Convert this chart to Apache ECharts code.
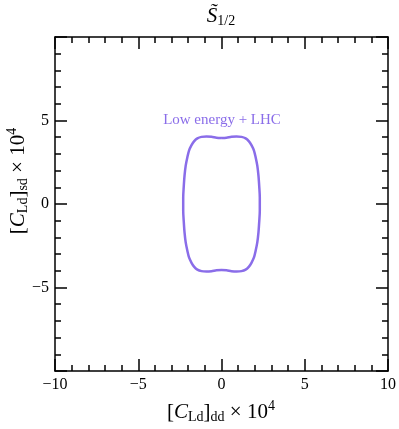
<!DOCTYPE html>
<html>
<head>
<meta charset="utf-8">
<script src="https://cdn.jsdelivr.net/npm/echarts@6/dist/echarts.min.js"></script>
<style>
  html, body { margin: 0; padding: 0; background: #fff; }
  #chart { width: 399px; height: 429px; }
</style>
</head>
<body>
<div id="chart"></div>
<script>
// contour "Low energy + LHC" (units of 1e-4)
const contourX = [0, 0.3, 0.6, 0.9, 1.2, 1.45, 1.65, 1.8, 1.95, 2.05, 2.15, 2.22, 2.27, 2.3,
  2.3, 2.27, 2.22, 2.15, 2.05, 1.95, 1.8, 1.65, 1.45, 1.2, 0.9, 0.6, 0.3, 0,
  -0.3, -0.6, -0.9, -1.2, -1.45, -1.65, -1.8, -1.95, -2.05, -2.15, -2.22, -2.27, -2.3,
  -2.3, -2.27, -2.22, -2.15, -2.05, -1.95, -1.8, -1.65, -1.45, -1.2, -0.9, -0.6, -0.3, 0];
const contourY = [3.95, 3.97, 4.02, 4.04, 4.02, 3.93, 3.75, 3.52, 3.2, 2.8, 2.3, 1.7, 1.0, 0.4,
  -0.4, -1.0, -1.7, -2.3, -2.8, -3.2, -3.52, -3.75, -3.93, -4.02, -4.04, -4.02, -3.97, -3.95,
  -3.97, -4.02, -4.04, -4.02, -3.93, -3.75, -3.52, -3.2, -2.8, -2.3, -1.7, -1.0, -0.4,
  0.4, 1.0, 1.7, 2.3, 2.8, 3.2, 3.52, 3.75, 3.93, 4.02, 4.04, 4.02, 3.97, 3.95];
const axisMin = -10;
const axisMax = 10;
const majorStep = 5;

const purple = '#8a6de9';
const serif = '"Liberation Serif", "DejaVu Serif", serif';

const chart = echarts.init(document.getElementById('chart'));

const fmt = v => String(v).replace('-', '\u2212');

function makeAxis(position, showLabel, isY) {
  return {
    type: 'value',
    position: position,
    min: axisMin,
    max: axisMax,
    interval: majorStep,
    axisLine: { show: true, onZero: false, lineStyle: { color: '#000', width: 1.5 } },
    axisTick: { show: true, inside: true, length: 12, lineStyle: { color: '#000', width: 1.5 } },
    minorTick: { show: true, splitNumber: 5, length: 6, lineStyle: { color: '#000', width: 1.5 } },
    splitLine: { show: false },
    minorSplitLine: { show: false },
    axisLabel: {
      show: showLabel,
      formatter: fmt,
      color: '#000',
      fontFamily: serif,
      fontSize: 16,
      margin: 6,
      showMinLabel: !isY,
      showMaxLabel: !isY
    }
  };
}

const nameRich = {
  b: { fontFamily: serif, fontSize: 21, color: '#000', lineHeight: 24 },
  i: { fontFamily: serif, fontSize: 21, fontStyle: 'italic', color: '#000', lineHeight: 24 },
  s: { fontFamily: serif, fontSize: 14, color: '#000', lineHeight: 14, padding: [10, 0, 0, 0] },
  sup: { fontFamily: serif, fontSize: 14, color: '#000', lineHeight: 14, padding: [0, 0, 12, 0] }
};

const option = {
  animation: false,
  backgroundColor: '#fff',
  grid: { left: 55, top: 37, width: 334, height: 334, containLabel: false },
  xAxis: [makeAxis('bottom', true, false), makeAxis('top', false, false)],
  yAxis: [makeAxis('left', true, true), makeAxis('right', false, true)],
  series: [{
    type: 'line',
    xAxisIndex: 0,
    yAxisIndex: 0,
    data: contourX.map((x, i) => [x, contourY[i]]),
    showSymbol: false,
    smooth: 0.3,
    lineStyle: { color: purple, width: 2.5 }
  }],
  graphic: [
    {
      type: 'text', x: 222, y: 120,
      style: { text: 'Low energy + LHC', fill: purple, font: '15px ' + serif, align: 'center', verticalAlign: 'middle' }
    },
    {
      type: 'text', x: 221, y: 16,
      style: {
        text: '{i|S\u0303}{s|1/2}',
        align: 'center', verticalAlign: 'middle',
        rich: nameRich
      }
    },
    {
      type: 'text', x: 221, y: 412,
      style: {
        text: '{b|[}{i|C}{s|Ld}{b|]}{s|dd}{b| \u00d7 10}{sup|4}',
        align: 'center', verticalAlign: 'middle',
        rich: nameRich
      }
    },
    {
      type: 'text', x: 18, y: 181, rotation: Math.PI / 2,
      style: {
        text: '{b|[}{i|C}{s|Ld}{b|]}{s|sd}{b| \u00d7 10}{sup|4}',
        align: 'center', verticalAlign: 'middle',
        rich: nameRich
      }
    }
  ]
};

chart.setOption(option);
</script>
</body>
</html>
